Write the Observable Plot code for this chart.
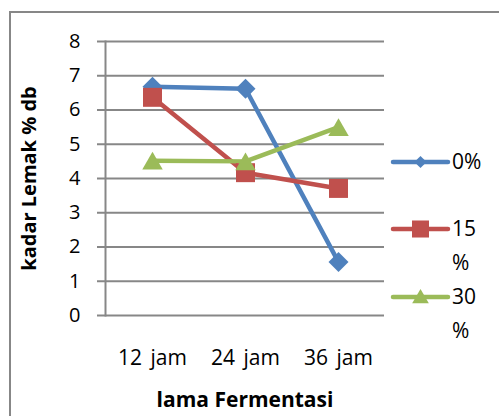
<!DOCTYPE html>
<html><head><meta charset="utf-8">
<script src="https://cdn.jsdelivr.net/npm/d3@7"></script>
<script src="https://cdn.jsdelivr.net/npm/@observablehq/plot@0.6"></script>
<style>
html,body{margin:0;padding:0;background:#fff;overflow:hidden;width:499px;height:416px}
#wrap{position:relative;width:499px;height:416px;overflow:hidden}
#border{position:absolute;left:9px;top:11px;width:600px;height:600px;border:2px solid #878787;box-sizing:border-box}
#chart{position:absolute;left:0;top:0}
#legend{position:absolute;left:0;top:0}
</style></head><body>
<div id="wrap"><div id="border"></div><div id="chart"></div><svg id="legend" width="499" height="416"></svg></div>
<script>
const categories = ["12 jam", "24 jam", "36 jam"];
const seriesNames = ["0%", "15 %", "30 %"];
const values0 = [6.68, 6.62, 1.56];
const values15 = [6.37, 4.17, 3.71];
const values30 = [4.52, 4.5, 5.5];
const yTicks = [0, 1, 2, 3, 4, 5, 6, 7, 8];
const colors = ["#4F81BD", "#C0504D", "#9BBB59"];
const symbols = ["diamond2", "square", "triangle"];

const rows = (vals, s) => categories.map((c, i) => ({cat: c, v: vals[i], s}));
const data = [rows(values0, seriesNames[0]), rows(values15, seriesNames[1]), rows(values30, seriesNames[2])];
const gridColor = "#878787";
const font = "'Open Sans', sans-serif";

const marks = [
  Plot.gridY(yTicks, {stroke: gridColor, strokeOpacity: 1, strokeWidth: 2}),
  Plot.axisY(yTicks, {tickSize: 8, tickPadding: 17, stroke: gridColor, strokeWidth: 2,
    label: "kadar Lemak % db", labelAnchor: "center", labelOffset: 84, labelArrow: "none"}),
  Plot.axisX({tickSize: 0, tickPadding: 35, label: "lama Fermentasi", labelAnchor: "center", labelOffset: 91, labelArrow: "none"}),
  Plot.frame({anchor: "left", stroke: gridColor, strokeWidth: 2})
];
const dotR = [9, 10.7, 7.6];
const dotDy = [0, 0, 3];
data.forEach((d, i) => {
  marks.push(Plot.line(d, {x: "cat", y: "v", stroke: colors[i], strokeWidth: 4.5}));
});
data.forEach((d, i) => {
  marks.push(Plot.dot(d, {x: "cat", y: "v", symbol: symbols[i], r: dotR[i], fill: colors[i], stroke: "none", dy: dotDy[i]}));
});

const chart = Plot.plot({
  width: 499, height: 416,
  marginLeft: 105, marginRight: 115, marginTop: 41, marginBottom: 101,
  style: {fontFamily: font, fontSize: "20px", color: "#000", background: "transparent"},
  x: {type: "point", domain: categories, padding: 0.5},
  y: {domain: [0, 8]},
  marks
});
document.getElementById("chart").appendChild(chart);
d3.select(chart).selectAll('g[aria-label="x-axis tick label"] text').attr("font-size", 21).style("word-spacing", "3px");
d3.select(chart).selectAll('g[aria-label="y-axis label"]')
  .attr("font-weight", "bold").attr("font-size", 20);
d3.select(chart).selectAll('g[aria-label="x-axis label"]')
  .attr("font-weight", "bold").attr("font-size", 21);

// legend
const lg = d3.select("#legend");
const legendY = [162, 229, 297];
const legendSym = [d3.symbol(d3.symbolDiamond2, 95), d3.symbol(d3.symbolSquare, 290), d3.symbol(d3.symbolTriangle, 120)];
seriesNames.forEach((name, i) => {
  const g = lg.append("g").attr("transform", `translate(0,${legendY[i]})`);
  g.append("line").attr("x1", 393).attr("x2", 448).attr("stroke", colors[i]).attr("stroke-width", 4.5).attr("stroke-linecap", "round");
  g.append("path").attr("d", legendSym[i]()).attr("transform", `translate(420.5,${i === 2 ? 1.5 : 0})`).attr("fill", colors[i]);
  const parts = name.split(" ");
  parts.forEach((p, j) => {
    g.append("text").attr("x", 452).attr("y", j * 34).attr("dy", "0.35em")
      .attr("font-family", font).attr("font-size", 21).attr("fill", "#000").text(p);
  });
});
</script></body></html>
